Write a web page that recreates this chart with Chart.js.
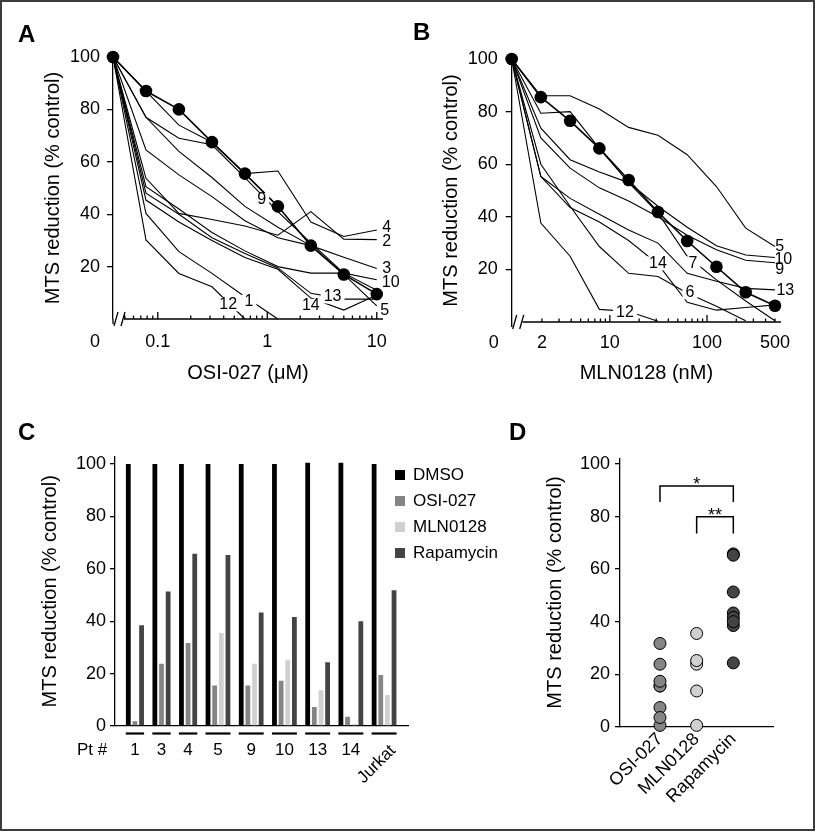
<!DOCTYPE html>
<html>
<head>
<meta charset="utf-8">
<script src="https://cdn.jsdelivr.net/npm/chart.js@4.4.1/dist/chart.umd.min.js"></script>
<style>
  body { margin: 0; background: #fff; }
  #fig { position: relative; width: 815px; height: 832px; overflow: hidden; background: #fff; }
  #fig canvas { position: absolute; }
  .tag { position: absolute; font: bold 24px "Liberation Sans", Arial, sans-serif; line-height: 24px; color: #000; }
  .frame { position: absolute; left: 0; top: 0; width: 815px; height: 831px; box-sizing: border-box; border: 2px solid #3c3c3c; pointer-events: none; }
</style>
</head>
<body>
<div id="fig">
  <canvas id="chartA" width="405" height="410" style="left:0;top:0"></canvas>
  <canvas id="chartB" width="415" height="410" style="left:400px;top:0"></canvas>
  <canvas id="chartC" width="520" height="415" style="left:0;top:415px"></canvas>
  <canvas id="chartD" width="295" height="415" style="left:520px;top:415px"></canvas>
  <div class="tag" style="left:18px;top:22px">A</div>
  <div class="tag" style="left:413px;top:20px">B</div>
  <div class="tag" style="left:18px;top:420px">C</div>
  <div class="tag" style="left:509px;top:420px">D</div>
  <div class="frame"></div>
</div>
<script>
// === DATA: A (OSI-027, uM) ===
// first dose is where the untreated control (0) sits on the log axis
const concA = [0.039, 0.078, 0.156, 0.3125, 0.625, 1.25, 2.5, 5, 10];
const meanA = [100, 87, 80, 67.5, 55.5, 43, 28, 17, 9.5];
const a4  = [100, 87, 74, 67.5, 55.5, 56.5, 37, 31.5, 34];
const a9  = [100, 77, 69, 66.5, 54, 41, 29, 17.5, 11];
const a5  = [100, 77, 64, 54, 43, 35, 28, 17, 5];
const a3  = [100, 64.5, 55, 46.7, 37.5, 31, 28, 23.6, 19.3];
const a2  = [100, 53.7, 40.3, 38, 35.5, 32, 41, 30.5, 30.3];
const a10 = [100, 50.5, 42, 33, 26, 20, 17.5, 17.5, 15];
const a13 = [100, 48, 40, 31, 25, 19.5, 9.8, 7.6, 7.6];
const a14 = [100, 45.4, 37, 30, 23.5, 19, 8, 3.4, 9.2];
const a1  = [100, 40.3, 25.7, 17.4, 8.5, 0];
const a12 = [100, 30.2, 17.4, 12.3, 0];
const xTicksA = [0.1, 1, 10];
const xLabelsA = ['0.1', '1', '10'];

// === DATA: B (MLN0128, nM) ===
const concB = [0.977, 1.95, 3.9, 7.8, 15.6, 31.25, 62.5, 125, 250, 500];
const meanB = [100, 85.5, 76.5, 66, 54, 41.8, 30.8, 21, 11.3, 6.2];
const b5  = [100, 86, 86, 81, 74, 71, 63.6, 51.5, 35.7, 28.7];
const b7  = [100, 79.4, 80, 66, 53, 41.5, 25, 16, 8, 0.5];
const b10 = [100, 73.7, 61.7, 57, 53, 44, 36, 29, 25.5, 24.5];
const b9  = [100, 70, 58.5, 51, 46, 40, 33, 27.5, 23.5, 22.5];
const b13 = [100, 55.3, 47, 41, 35, 30, 18.5, 15.5, 12.8, 12.2];
const b14 = [100, 55.3, 43.5, 38, 31, 22, 7.5, 4.5, 5.5, 6.5];
const b6  = [100, 60, 44, 28.7, 18.5, 17.3, 11, 6, 0.5];
const b12 = [100, 37.6, 25, 4.8, 4, 0.3];
const xTicksB = [2, 10, 100, 500];
const xLabelsB = ['2', '10', '100', '500'];

const yTicksAB = [20, 40, 60, 80, 100];

// === DATA: C ===
const patients  = ['1', '3', '4', '5', '9', '10', '13', '14', 'Jurkat'];
const dmso      = [100, 100, 100, 100, 100, 100, 100.5, 100.5, 100];
const osi027    = [1.8, 23.8, 31.7, 15.5, 15.5, 17.3, 7.3, 3.5, 19.5];
const mln0128   = [null, null, null, 35.5, 23.8, 25.2, 13.6, 0.8, 11.8];
const rapamycin = [38.5, 51.3, 65.8, 65.3, 43.3, 41.6, 24.3, 40, 51.8];
const yTicksCD  = [0, 20, 40, 60, 80, 100];

// === DATA: D ===
const groupsD = ['OSI-027', 'MLN0128', 'Rapamycin'];
const dOsi  = [0.5, 23.8, 31.7, 15.5, 15.5, 17.3, 7.3, 3.5];
const dMln  = [35.5, 23.8, 25.2, 13.6, 0.5];
const dRapa = [38.5, 51.3, 65.8, 65.3, 43.3, 41.6, 24.3, 40];

const FONT = '"Liberation Sans", Arial, sans-serif';
Chart.defaults.font.family = FONT;
Chart.defaults.color = '#000';
const GREY_OSI = '#858585', GREY_MLN = '#d0d0d0', GREY_RAPA = '#444444';
const Y_TITLE = 'MTS reduction (% control)';

// === PLUGINS ===
// x axis with a break next to the "0" dose, ticks pointing up
const brokenAxis = {
  id: 'brokenAxis',
  afterDraw(chart, args, opts) {
    const { ctx, chartArea: { left, right, bottom } } = chart;
    const sx = chart.scales.x;
    ctx.save();
    ctx.strokeStyle = '#000';
    ctx.lineWidth = 1.3;
    ctx.beginPath();
    ctx.moveTo(left, bottom); ctx.lineTo(left, bottom + 5);
    ctx.moveTo(left + 1, bottom + 7); ctx.lineTo(left + 5, bottom - 7);
    ctx.moveTo(left + 8, bottom + 7); ctx.lineTo(left + 12, bottom - 7);
    ctx.moveTo(left + 11, bottom); ctx.lineTo(right, bottom);
    const minStart = opts.zero * 1.25;
    for (let e = -3; e <= 3; e++) {
      for (let m = 1; m <= 9; m++) {
        const v = m * Math.pow(10, e);
        if (v < minStart || v > sx.max) continue;
        const p = sx.getPixelForValue(v);
        ctx.moveTo(p, bottom);
        ctx.lineTo(p, bottom - (m === 1 ? 7 : 3.5));
      }
    }
    ctx.stroke();
    ctx.fillStyle = '#000';
    ctx.font = '18px ' + FONT;
    ctx.textAlign = 'center';
    ctx.textBaseline = 'middle';
    ctx.fillText('0', left - 18, opts.labelY);
    ctx.restore();
  }
};

// patient numbers written on / next to the curves
const lineLabels = {
  id: 'lineLabels',
  afterDatasetsDraw(chart, args, opts) {
    const { ctx, scales: { x, y } } = chart;
    ctx.save();
    ctx.font = '16px ' + FONT;
    ctx.textAlign = 'center';
    ctx.textBaseline = 'middle';
    opts.items.forEach(l => {
      const px = x.getPixelForValue(l.x), py = y.getPixelForValue(l.y);
      if (l.gap) {
        const w = ctx.measureText(l.t).width;
        ctx.fillStyle = '#fff';
        ctx.fillRect(px - w / 2 - 3, py - 7, w + 6, 14);
      }
      ctx.fillStyle = '#000';
      ctx.fillText(l.t, px, py);
    });
    ctx.restore();
  }
};

function doseChart(id, o) {
  const datasets = [{
    data: o.conc.map((x, i) => ({ x, y: o.mean[i] })),
    borderColor: '#000', borderWidth: 1.6,
    pointRadius: 6.3, pointBackgroundColor: '#000', pointBorderWidth: 0,
    clip: false
  }].concat(o.lines.map(vals => ({
    data: vals.map((y, i) => ({ x: o.conc[i], y })),
    borderColor: '#000', borderWidth: 1.1, pointRadius: 0, clip: false
  })));

  new Chart(document.getElementById(id), {
    type: 'line',
    data: { datasets },
    options: {
      responsive: false,
      animation: false,
      devicePixelRatio: 1,
      layout: { padding: { left: 0, top: o.top, right: o.right, bottom: 20 } },
      plugins: {
        legend: { display: false },
        tooltip: { enabled: false },
        brokenAxis: { zero: o.conc[0], labelY: o.labelY },
        lineLabels: { items: o.labels }
      },
      scales: {
        x: {
          type: 'logarithmic', min: o.conc[0], max: o.xmax,
          afterBuildTicks: s => { s.ticks = o.xTicks.map(v => ({ value: v })); },
          afterFit: s => { s.height = o.xh; },
          ticks: { callback: (v, i) => o.xLabels[i], font: { size: 18 }, padding: o.tickPad, maxRotation: 0, autoSkip: false },
          grid: { display: false, drawTicks: false },
          border: { display: false },
          title: { display: true, text: o.xTitle, font: { size: 20 }, padding: { top: 0, bottom: 5 } }
        },
        y: {
          min: 0, max: 100,
          afterBuildTicks: s => { s.ticks = yTicksAB.map(v => ({ value: v })); },
          afterFit: s => { s.width = o.yw; },
          ticks: { callback: v => String(v), font: { size: 18 }, padding: o.yPad },
          grid: { drawOnChartArea: false, drawTicks: true, tickLength: 6, color: '#000', lineWidth: 1.3 },
          border: { display: true, color: '#000', width: 1.3 },
          title: { display: true, text: Y_TITLE, font: { size: 20 }, padding: { top: o.yw - 72, bottom: 0 } }
        }
      }
    },
    plugins: [brokenAxis, lineLabels]
  });
}

// === A ===
doseChart('chartA', {
  conc: concA, mean: meanA,
  lines: [a4, a9, a5, a3, a2, a10, a13, a14, a1, a12],
  xmax: 11.4, xTicks: xTicksA, xLabels: xLabelsA, xTitle: 'OSI-027 (\u03bcM)',
  top: 57, right: 22, xh: 71, yw: 113, yPad: 7, tickPad: 12, labelY: 342,
  labels: [
    { t: '4', x: 12.3, y: 35 }, { t: '2', x: 12.3, y: 29.4 }, { t: '3', x: 12.3, y: 19.3 },
    { t: '10', x: 13.4, y: 13.9 }, { t: '5', x: 11.8, y: 3.3 },
    { t: '9', x: 0.89, y: 45.4, gap: true }, { t: '13', x: 3.95, y: 8.6, gap: true },
    { t: '14', x: 2.5, y: 5, gap: true }, { t: '12', x: 0.44, y: 5.6, gap: true },
    { t: '1', x: 0.68, y: 6.6, gap: true }
  ]
});

// === B ===
doseChart('chartB', {
  conc: concB, mean: meanB,
  lines: [b5, b7, b10, b9, b13, b14, b6, b12],
  xmax: 577, xTicks: xTicksB, xLabels: xLabelsB, xTitle: 'MLN0128 (nM)',
  top: 59, right: 34, xh: 68, yw: 111.7, yPad: 8, tickPad: 10, labelY: 343,
  labels: [
    { t: '5', x: 560, y: 28.7 }, { t: '10', x: 610, y: 23.8 }, { t: '9', x: 560, y: 19.8 },
    { t: '13', x: 640, y: 11.9 },
    { t: '14', x: 31.3, y: 22.3, gap: true }, { t: '7', x: 71.6, y: 22.3, gap: true },
    { t: '6', x: 66.7, y: 11.3, gap: true }, { t: '12', x: 14.3, y: 3.6, gap: true }
  ]
});

// === C: bars side by side inside each patient group, one empty slot between groups ===
const seriesC = [
  ['DMSO', dmso, '#000000'],
  ['OSI-027', osi027, GREY_OSI],
  ['MLN0128', mln0128, GREY_MLN],
  ['Rapamycin', rapamycin, GREY_RAPA]
];
const barsC = seriesC.map(() => []);
const groupSpan = [];
let slot = 0;
patients.forEach((p, g) => {
  const first = slot;
  seriesC.forEach(([, vals], s) => {
    if (vals[g] == null) return;
    barsC[s].push({ x: slot, y: vals[g] });
    slot++;
  });
  groupSpan.push([first, slot - 1]);
  slot++;
});

const groupAxis = {
  id: 'groupAxis',
  afterDraw(chart) {
    const { ctx, chartArea: { right, top, bottom } } = chart;
    const sx = chart.scales.x;
    ctx.save();
    ctx.fillStyle = '#000';
    ctx.strokeStyle = '#000';
    ctx.lineWidth = 2.2;
    ctx.font = '17px ' + FONT;
    ctx.textBaseline = 'middle';
    groupSpan.forEach(([a, b], g) => {
      const x1 = sx.getPixelForValue(a - 0.38), x2 = sx.getPixelForValue(b + 0.38);
      ctx.beginPath();
      ctx.moveTo(x1, bottom + 7.5); ctx.lineTo(x2, bottom + 7.5);
      ctx.stroke();
      const cx = (sx.getPixelForValue(a) + sx.getPixelForValue(b)) / 2;
      if (g === patients.length - 1) {
        ctx.save();
        ctx.translate(cx + 9, bottom + 22);
        ctx.rotate(-Math.PI / 4);
        ctx.textAlign = 'right';
        ctx.fillText(patients[g], 0, 0);
        ctx.restore();
      } else {
        ctx.textAlign = 'center';
        ctx.fillText(patients[g], cx, bottom + 24);
      }
    });
    ctx.textAlign = 'center';
    ctx.fillText('Pt #', 92, bottom + 24);
    // legend
    ctx.textAlign = 'left';
    chart.data.datasets.forEach((ds, i) => {
      const yy = top + 18.3 + i * 26;
      ctx.fillStyle = ds.backgroundColor;
      ctx.fillRect(right - 13, yy - 5, 10, 10);
      ctx.fillStyle = '#000';
      ctx.fillText(ds.label, right + 5, yy);
    });
    ctx.restore();
  }
};

new Chart(document.getElementById('chartC'), {
  type: 'bar',
  data: {
    datasets: seriesC.map(([label, , color], s) => ({
      label, data: barsC[s], backgroundColor: color,
      barPercentage: 0.72, categoryPercentage: 1
    }))
  },
  options: {
    responsive: false,
    animation: false,
    devicePixelRatio: 1,
    layout: { padding: { left: 0, top: 41.7, right: 112, bottom: 0 } },
    plugins: { legend: { display: false }, tooltip: { enabled: false } },
    scales: {
      x: {
        type: 'linear', min: -2, max: 42.1, offset: false, stacked: true,
        afterFit: s => { s.height = 104; },
        ticks: { display: false },
        grid: { display: false, drawTicks: false },
        border: { display: true, color: '#000', width: 1.3 }
      },
      y: {
        stacked: true, min: 0, max: 102.8,
        afterBuildTicks: s => { s.ticks = yTicksCD.map(v => ({ value: v })); },
        afterFit: s => { s.width = 115; },
        ticks: { callback: v => String(v), font: { size: 18 }, padding: 4 },
        grid: { drawOnChartArea: false, tickLength: 5, color: '#000', lineWidth: 1.3 },
        border: { display: true, color: '#000', width: 1.3 },
        title: { display: true, text: Y_TITLE, font: { size: 20 }, padding: { top: 38, bottom: 0 } }
      }
    }
  },
  plugins: [groupAxis]
});

// === D ===
const bracketsD = [
  { from: 1, to: 3, top: 91.7, foot: 85.6, mark: '*' },
  { from: 2, to: 3, top: 79.9, foot: 73.6, mark: '**' }
];
const sigBrackets = {
  id: 'sigBrackets',
  afterDraw(chart) {
    const { ctx, scales: { x, y } } = chart;
    ctx.save();
    ctx.strokeStyle = '#000';
    ctx.fillStyle = '#000';
    ctx.lineWidth = 1.5;
    ctx.font = '18px ' + FONT;
    ctx.textAlign = 'center';
    ctx.textBaseline = 'alphabetic';
    bracketsD.forEach(b => {
      const x1 = x.getPixelForValue(b.from), x2 = x.getPixelForValue(b.to);
      const yt = y.getPixelForValue(b.top), yf = y.getPixelForValue(b.foot);
      ctx.beginPath();
      ctx.moveTo(x1, yf); ctx.lineTo(x1, yt); ctx.lineTo(x2, yt); ctx.lineTo(x2, yf);
      ctx.stroke();
      ctx.fillText(b.mark, (x1 + x2) / 2, yt + 4);
    });
    ctx.restore();
  }
};

const pointsD = [dOsi, dMln, dRapa];
const colorsD = [GREY_OSI, GREY_MLN, GREY_RAPA];
new Chart(document.getElementById('chartD'), {
  type: 'scatter',
  data: {
    datasets: pointsD.map((vals, g) => ({
      data: vals.map(v => ({ x: g + 1, y: v })),
      pointRadius: 6, pointBackgroundColor: colorsD[g],
      pointBorderColor: '#000', pointBorderWidth: 1, clip: false
    }))
  },
  options: {
    responsive: false,
    animation: false,
    devicePixelRatio: 1,
    layout: { padding: { left: 0, top: 43.3, right: 41.7, bottom: 0 } },
    plugins: { legend: { display: false }, tooltip: { enabled: false } },
    scales: {
      x: {
        type: 'linear', min: -0.09, max: 4.09,
        afterBuildTicks: s => { s.ticks = groupsD.map((g, i) => ({ value: i + 1 })); },
        afterFit: s => { s.height = 103.3; },
        ticks: { callback: (v, i) => groupsD[i], font: { size: 18 }, padding: 2, minRotation: 45, maxRotation: 45, autoSkip: false },
        grid: { display: false, drawTicks: false },
        border: { display: true, color: '#000', width: 1.3 }
      },
      y: {
        min: 0, max: 102.2,
        afterBuildTicks: s => { s.ticks = yTicksCD.map(v => ({ value: v })); },
        afterFit: s => { s.width = 100; },
        ticks: { callback: v => String(v), font: { size: 18 }, padding: 5 },
        grid: { drawOnChartArea: false, tickLength: 5, color: '#000', lineWidth: 1.3 },
        border: { display: true, color: '#000', width: 1.3 },
        title: { display: true, text: Y_TITLE, font: { size: 20 }, padding: { top: 23, bottom: 0 } }
      }
    }
  },
  plugins: [sigBrackets]
});
</script>
</body>
</html>
